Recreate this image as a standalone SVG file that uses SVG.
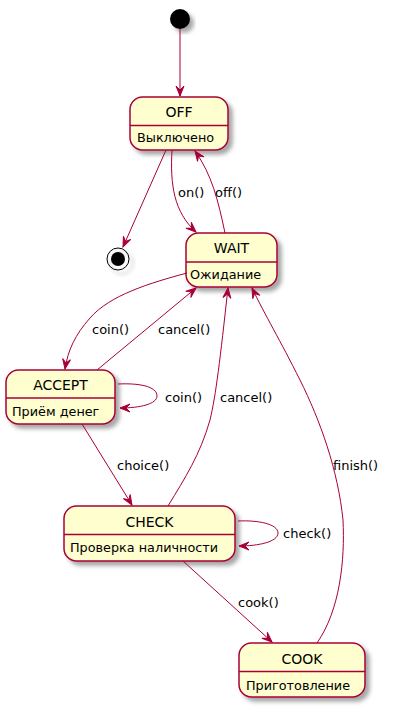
<svg xmlns="http://www.w3.org/2000/svg" width="400" height="708" viewBox="0 0 400 708">
<style>
.box{fill:#FEFECE;stroke:#A80036;stroke-width:1.5;filter:url(#sh)}
.div{stroke:#A80036;stroke-width:1.5}
.t{font-family:"DejaVu Sans",sans-serif;font-size:14px;fill:#000;text-anchor:middle}
.s{font-family:"DejaVu Sans",sans-serif;font-size:12.8px;fill:#000}
.l{font-family:"DejaVu Sans",sans-serif;font-size:13px;fill:#000}
.e{fill:none;stroke:#A80036;stroke-width:1;marker-end:url(#ah)}
</style>
<defs>
<filter id="sh" x="-20%" y="-20%" width="150%" height="150%">
<feDropShadow dx="4" dy="4" stdDeviation="2" flood-color="#000" flood-opacity="0.35"/>
</filter>
<marker id="ah" viewBox="-11 -5 12 10" markerUnits="userSpaceOnUse" markerWidth="12" markerHeight="10" refX="0" refY="0" orient="auto">
<path d="M0,0 L-10,-4 L-6,0 L-10,4 Z" fill="#A80036" stroke="#A80036" stroke-width="1"/>
</marker>
</defs>
<g id="start"><circle cx="180" cy="19" r="10" fill="#000" filter="url(#sh)"/></g>
<g id="end"><circle cx="118" cy="259" r="11" fill="none" stroke="#000" stroke-width="1" filter="url(#sh)"/><circle cx="118" cy="259" r="7" fill="#000"/></g>
<g id="OFF"><rect class="box" x="130" y="97" width="98" height="53" rx="12.5"/><line class="div" x1="130" y1="125.5" x2="228" y2="125.5"/><text class="t" x="179" y="117">OFF</text><text class="s" x="137" y="142">Выключено</text></g>
<g id="WAIT"><rect class="box" x="186" y="233" width="91" height="54" rx="12.5"/><line class="div" x1="186" y1="262" x2="277" y2="262"/><text class="t" x="231.5" y="253">WAIT</text><text class="s" x="190" y="279">Ожидание</text></g>
<g id="ACCEPT"><rect class="box" x="6" y="370" width="109" height="54" rx="12.5"/><line class="div" x1="6" y1="398" x2="115" y2="398"/><text class="t" x="60.5" y="390">ACCEPT</text><text class="s" x="12" y="416">Приём денег</text></g>
<g id="CHECK"><rect class="box" x="64" y="506" width="171" height="55" rx="12.5"/><line class="div" x1="64" y1="534.5" x2="235" y2="534.5"/><text class="t" x="149.5" y="526.5">CHECK</text><text class="s" x="70" y="552">Проверка наличности</text></g>
<g id="COOK"><rect class="box" x="239" y="643" width="126" height="54" rx="12.5"/><line class="div" x1="239" y1="671.5" x2="365" y2="671.5"/><text class="t" x="302" y="664">COOK</text><text class="s" x="246" y="690">Приготовление</text></g>
<g id="connectors">
<path class="e" d="M180,29 L180,96"/>
<path class="e" d="M166,150 L123,247"/>
<path class="e" d="M172,150 C170,185 174,212 196,232"/>
<path class="e" d="M225,233 C218,200 212,175 195,151"/>
<path class="e" d="M187,273 C150,283 110,295 90,318 C75,335 68,350 65,369"/>
<path class="e" d="M97,370 L196,288"/>
<path class="e" d="M118,384 C138,383 157,386 157,396 C157,404 140,408 120,408"/>
<path class="e" d="M82,424 L132,505"/>
<path class="e" d="M168,506 C185,478 200,455 210,420 C216,395 220,360 228,288"/>
<path class="e" d="M317,643 C340,610 345,560 343,520 C338,470 320,420 300,380 C280,340 265,315 252,288"/>
<path class="e" d="M238,521 C258,520 278,524 278,533 C278,542 258,546 239,546"/>
<path class="e" d="M183,561 L272,642"/>
<text class="l" x="178" y="197">on()</text>
<text class="l" x="215" y="197">off()</text>
<text class="l" x="92" y="334">coin()</text>
<text class="l" x="158" y="334">cancel()</text>
<text class="l" x="165" y="402">coin()</text>
<text class="l" x="220" y="402">cancel()</text>
<text class="l" x="117" y="470">choice()</text>
<text class="l" x="333" y="470">finish()</text>
<text class="l" x="283" y="538">check()</text>
<text class="l" x="238" y="607">cook()</text>
</g>
</svg>
